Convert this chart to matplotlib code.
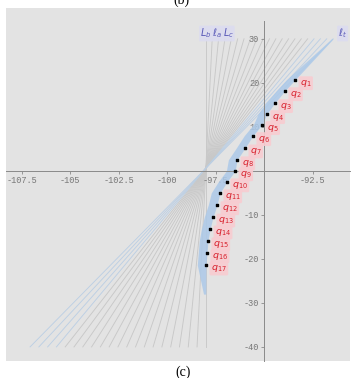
import matplotlib
matplotlib.use("Agg")
import matplotlib.pyplot as plt
import numpy as np

# ---- data ----
q_x = [-93.40, -93.92, -94.43, -94.85, -95.10, -95.57, -95.98, -96.39, -96.49,
       -96.91, -97.27, -97.42, -97.63, -97.78, -97.89, -97.94, -97.99]
q_y = [20.7, 18.2, 15.5, 13.0, 10.5, 8.0, 5.2, 2.5, 0.0,
       -2.5, -5.0, -7.7, -10.5, -13.2, -15.9, -18.6, -21.4]
q_labels = [f"$q_{{{i}}}$" for i in range(1, 18)]

# fan of lines: top ends at y=30, bottom ends at y=-40
line_top_y, line_bot_y = 30, -40
n_lines = 21
line_top_x = np.linspace(-98.0, -91.44, n_lines)
line_bot_x = np.linspace(-98.0, -107.06, n_lines)

x_ticks = [-107.5, -105, -102.5, -100, -97.5, -92.5]
x_tick_labels = ["-107.5", "-105", "-102.5", "-100", "-97.5", "-92.5"]
y_ticks = [30, 20, 10, -10, -20, -30, -40]
y_tick_labels = ["30", "20", "10", "-10", "-20", "-30", "-40"]

# blue band ends
band_top = (-91.44, 30.0)
band_bot = (-98.0, -28.0)

# ---- figure ----
fig = plt.figure(figsize=(3.59, 3.78), dpi=100)
fig.patch.set_facecolor("white")
ax = fig.add_axes([6/359, 17/378, 344/359, 353/378])
ax.set_facecolor("#e3e3e3")
ax.set_xlim(-108.3, -90.57)
ax.set_ylim(-43.2, 37.0)

# lines
for i in range(n_lines):
    t = i / (n_lines - 1)
    col = "#bccfe3" if t > 0.8 else "#c8c8c8"
    ax.plot([line_top_x[i], line_bot_x[i]], [line_top_y, line_bot_y],
            color=col, lw=0.65, zorder=1)

# band
by = [band_bot[1]] + q_y[::-1] + [band_top[1]]
bx = [band_bot[0]] + q_x[::-1] + [band_top[0]]
w = [0.12] + [0.45] * len(q_x) + [0.08]
ax.fill_betweenx(by, np.array(bx) - np.array(w), bx, color="#acc9e8",
                 alpha=0.85, lw=0, zorder=2)

# axes lines
for s in ["top", "right"]:
    ax.spines[s].set_visible(False)
ax.spines["left"].set_position(("data", -95))
ax.spines["bottom"].set_position(("data", 0))
for s in ["left", "bottom"]:
    ax.spines[s].set_color("#8a8a8a")
    ax.spines[s].set_linewidth(0.7)
ax.spines["left"].set_bounds(-43.2, 34)
ax.set_xticks(x_ticks)
ax.set_xticklabels(x_tick_labels)
ax.set_yticks(y_ticks)
ax.set_yticklabels(y_tick_labels)
ax.tick_params(axis="both", length=2, width=0.6, color="#8a8a8a",
               labelsize=6.2, labelcolor="#777777", pad=1.5)
for lab in ax.get_xticklabels() + ax.get_yticklabels():
    lab.set_family("Liberation Mono")

# points and labels
ax.scatter(q_x, q_y, s=3, marker="s", color="black", zorder=4)
for x, y, lab in zip(q_x, q_y, q_labels):
    ax.annotate(lab, (x, y), xytext=(3.5, -2.5), textcoords="offset points",
                fontsize=6.8, color="#d8202c", fontweight="bold",
                ha="left", va="center", zorder=5,
                bbox=dict(boxstyle="round,pad=0.15", fc="#f8ccd1",
                          ec="none", alpha=0.9))

# line labels
lab_kw = dict(fontsize=7, color="#5a5ab8", ha="center", va="center",
              bbox=dict(boxstyle="round,pad=0.1", fc="#dcdcf0", ec="none", alpha=0.9))
ax.text(-98.0, 31.2, "$L_b$", **lab_kw)
ax.text(-97.45, 31.2, r"$\ell_a$", **lab_kw)
ax.text(-96.85, 31.2, "$L_c$", **lab_kw)
ax.text(-90.95, 31.2, r"$\ell_t$", **lab_kw)

# captions
fig.text(0.505, 0.998, "(b)", ha="center", va="center", fontsize=10,
         family="Liberation Serif")
fig.text(0.51, 0.016, "(c)", ha="center", va="center", fontsize=10,
         family="Liberation Serif")

fig.savefig("out.png", dpi=100)
